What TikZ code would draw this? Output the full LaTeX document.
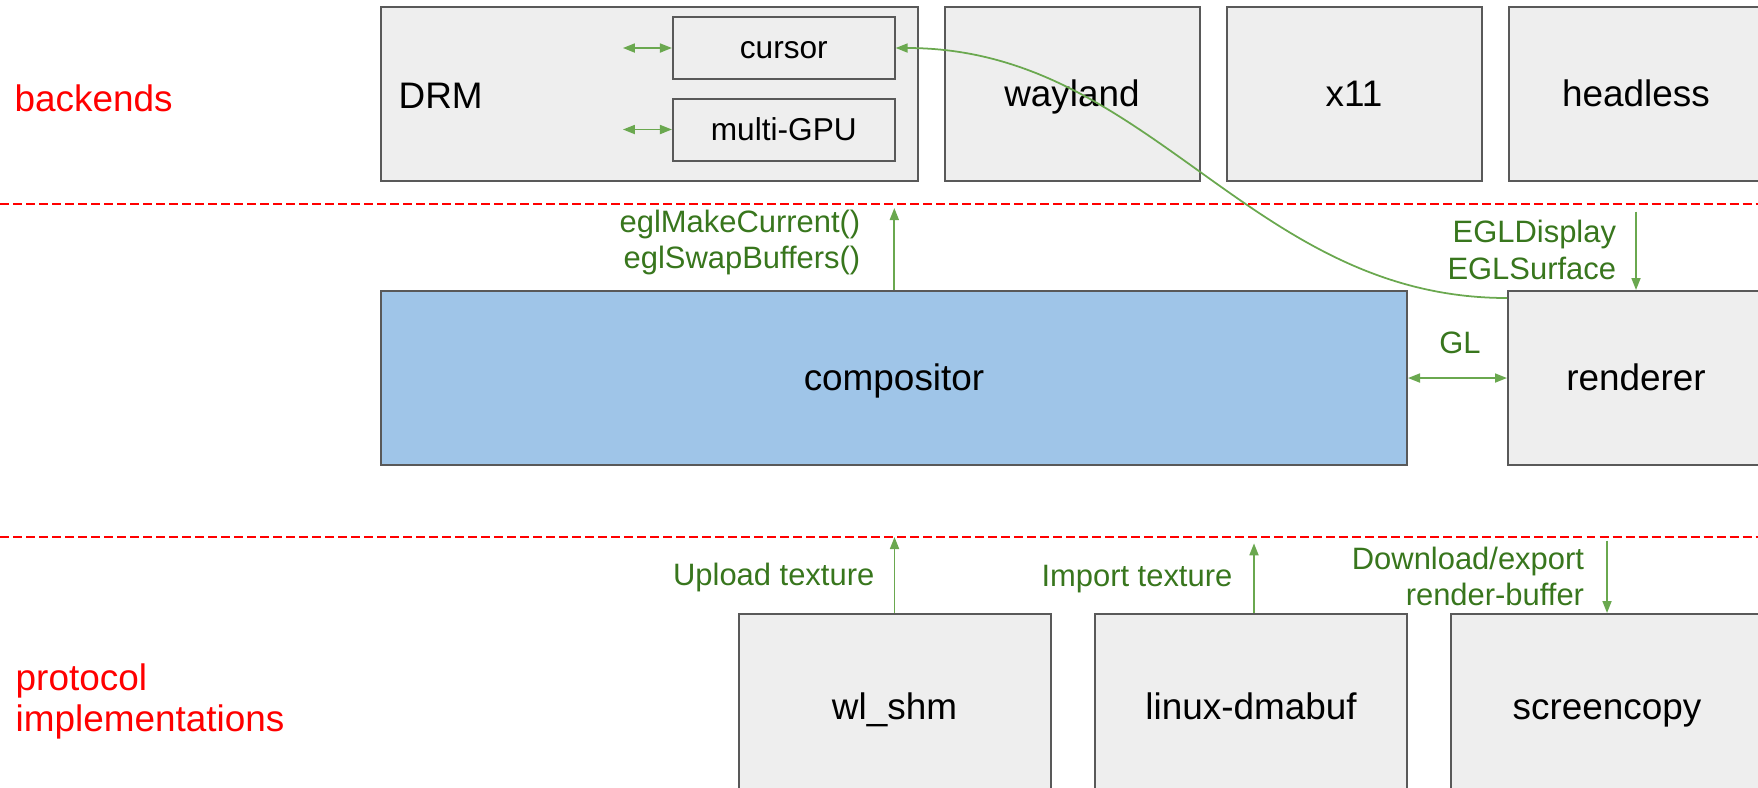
\documentclass[tikz,border=0pt]{standalone}
\usepackage{fontspec}
\setmainfont{Liberation Sans}
\usepackage{tikz}
\usetikzlibrary{arrows.meta}
\definecolor{boxgray}{RGB}{238, 238, 238}
\definecolor{boxline}{RGB}{89, 89, 89}
\definecolor{compblue}{RGB}{159, 197, 232}
\definecolor{linkgreen}{RGB}{106, 168, 79}
\definecolor{textgreen}{RGB}{56, 118, 29}
\definecolor{layerred}{RGB}{255, 0, 0}

\begin{document}
\begin{tikzpicture}[>={Triangle[length=1.2mm, width=0.9mm]},
			box/.style = {draw = boxline, fill = boxgray, line width = 0.57pt, inner sep = 0pt, text height = 9.5pt, text depth = 2.23pt, font = \fontsize{10.5}{12.6}\selectfont},
			subbox/.style = {box, text height = 8.15pt, text depth = 1.9pt, font = \fontsize{9}{10.8}\selectfont},
			lbl/.style = {text = textgreen, inner sep = 0pt, align = right, font = \fontsize{8.8}{10.5}\selectfont},
			layer/.style = {text = layerred, inner sep = 0pt, align = left, font = \fontsize{10.5}{11.7}\selectfont},
			sep/.style = {draw = layerred, line width = 0.57pt, dash pattern = on 2.56pt off 1.14pt},
			link/.style = {draw = linkgreen, line width = 0.5pt}]
			\useasboundingbox (0,0) rectangle (17.58,-7.87);
			\clip (0,0) rectangle (17.58,-7.87);
			\node (backends) at (0.14,-0.985) [layer, anchor = west] {backends};
			\node (protocols) at (0.15,-6.63) [layer, anchor = north west] {protocol\\implementations};
			\node (drm) at (6.498,-0.94) [box, minimum width = 5.37cm, minimum height = 1.74cm] {};
			\node (drmname) at (3.98,-0.955) [anchor = west, inner sep = 0pt, text height = 9.5pt, text depth = 2.23pt, font = \fontsize{10.5}{12.6}\selectfont] {DRM};
			\node (cursor) at (7.838,-0.48) [subbox, minimum width = 2.217cm, minimum height = 0.62cm] {cursor};
			\node (multigpu) at (7.838,-1.295) [subbox, minimum width = 2.217cm, minimum height = 0.62cm] {multi-GPU};
			\node (wayland) at (10.72,-0.94) [box, minimum width = 2.55cm, minimum height = 1.74cm] {wayland};
			\node (x11) at (13.54,-0.94) [box, minimum width = 2.55cm, minimum height = 1.74cm] {x11};
			\node (headless) at (16.36,-0.94) [box, minimum width = 2.55cm, minimum height = 1.74cm] {headless};
			\node (compositor) at (8.94,-3.78) [box, fill = compblue, minimum width = 10.26cm, minimum height = 1.74cm] {compositor};
			\node (renderer) at (16.36,-3.78) [box, minimum width = 2.56cm, minimum height = 1.74cm] {renderer};
			\node (wlshm) at (8.945,-7.065) [box, minimum width = 3.12cm, minimum height = 1.85cm] {wl\_shm};
			\node (dmabuf) at (12.51,-7.065) [box, minimum width = 3.12cm, minimum height = 1.85cm] {linux-dmabuf};
			\node (screencopy) at (16.07,-7.065) [box, minimum width = 3.12cm, minimum height = 1.85cm] {screencopy};
			\coordinate (sepa) at (0,-2.035);
			\coordinate (sepb) at (17.58,-2.035);
			\coordinate (sepc) at (0,-5.37);
			\coordinate (sepd) at (17.58,-5.37);
			\draw[sep] (sepa) -- (sepb);
			\draw[sep] (sepc) -- (sepd);
			\coordinate (drmcur) at (6.229,-0.48);
			\coordinate (drmgpu) at (6.229,-1.295);
			\coordinate (mkcur) at (8.943,-2.08);
			\coordinate (egldisp) at (16.36,-2.117);
			\coordinate (upload) at (8.945,-5.37);
			\coordinate (import) at (12.54,-5.433);
			\coordinate (download) at (16.07,-5.407);
			\draw[link, <->] (drmcur) -- (cursor.west);
			\draw[link, <->] (drmgpu) -- (multigpu.west);
			\draw[link, ->] ([yshift = -0.08cm]renderer.north west) .. controls +(-2.58,0) and +(2.55,0) .. (cursor.east);
			\draw[link, ->] (compositor.north -| mkcur) -- (mkcur);
			\draw[link, ->] (egldisp) -- (renderer.north);
			\draw[link, <->] (compositor.east) -- (renderer.west);
			\draw[link, ->] (wlshm.north) -- (upload);
			\draw[link, ->] (dmabuf.north -| import) -- (import);
			\draw[link, ->] (download) -- (screencopy.north);
			\node (eglcalls) at (8.61,-2.425) [lbl, anchor = east] {eglMakeCurrent()\\eglSwapBuffers()};
			\node (eglobjs) at (16.167,-2.50) [lbl, anchor = east] {EGLDisplay\\EGLSurface};
			\node (gl) at (14.60,-3.533) [lbl, anchor = base] {GL};
			\node (uploadlbl) at (8.75,-5.857) [lbl, anchor = base east] {Upload texture};
			\node (importlbl) at (12.33,-5.867) [lbl, anchor = base east] {Import texture};
			\node (downloadlbl) at (15.847,-5.764) [lbl, anchor = east] {Download/export\\render-buffer};
\end{tikzpicture}
\end{document}
